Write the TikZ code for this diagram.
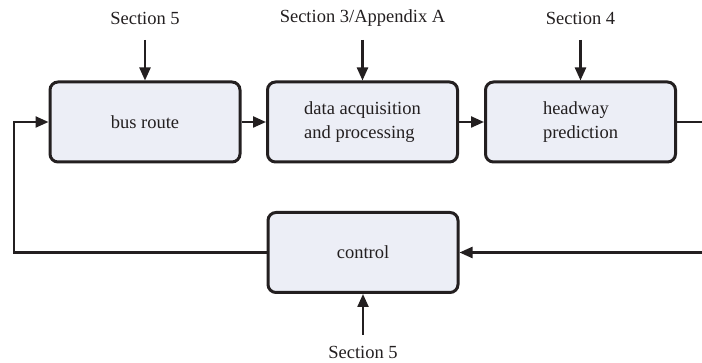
\documentclass[tikz,border=0pt]{standalone}
\usepackage{fontspec}
\setmainfont{Liberation Serif}
\usetikzlibrary{arrows.meta}
\definecolor{boxfill}{HTML}{ECEEF6}
\definecolor{ink}{HTML}{231F20}
\begin{document}
\begin{tikzpicture}[x=1pt,y=-1pt,
  blk/.style={draw=ink,line width=3pt,fill=boxfill,rounded corners=8pt,
    minimum width=190pt,minimum height=80pt,align=left,font=\fontsize{18.5}{24}\selectfont,text=ink},
  lbl/.style={font=\fontsize{18.5}{22}\selectfont,text=ink},
  conn/.style={draw=ink,line width=2.3pt,-{Triangle[length=13pt,width=11pt]}}]
\useasboundingbox (0,0) rectangle (702,363);
\clip (0,0) rectangle (702,363);
\node[blk] (bus) at (145,122) {bus route};
\node[blk] (daq) at (362.5,122) {data acquisition\\and processing};
\node[blk] (head) at (580.5,122) {headway\\prediction};
\node[blk] (ctrl) at (363,252.5) {control};
\node[lbl] (s5a) at (145,18) {Section 5};
\node[lbl] (s3) at (362.5,18) {Section 3/Appendix A};
\node[lbl] (s4) at (580.5,18) {Section 4};
\node[lbl] (s5b) at (363,352) {Section 5};
\coordinate (ta) at (145,40);
\coordinate (tb) at (362.5,40);
\coordinate (tc) at (580.5,40);
\coordinate (bd) at (363,335);
\coordinate (r1) at (715,122);
\coordinate (r2) at (715,252.5);
\coordinate (l1) at (14,252.5);
\coordinate (l2) at (14,122);
\draw[conn] (ta) -- (bus.north);
\draw[conn] (tb) -- (daq.north);
\draw[conn] (tc) -- (head.north);
\draw[conn] (bd) -- (ctrl.south);
\draw[conn] (bus) -- (daq);
\draw[conn] (daq) -- (head);
\draw[conn] (head.east) -- (r1) -- (r2) -- (ctrl.east);
\draw[conn] (ctrl.west) -- (l1) -- (l2) -- (bus.west);
\end{tikzpicture}
\end{document}
